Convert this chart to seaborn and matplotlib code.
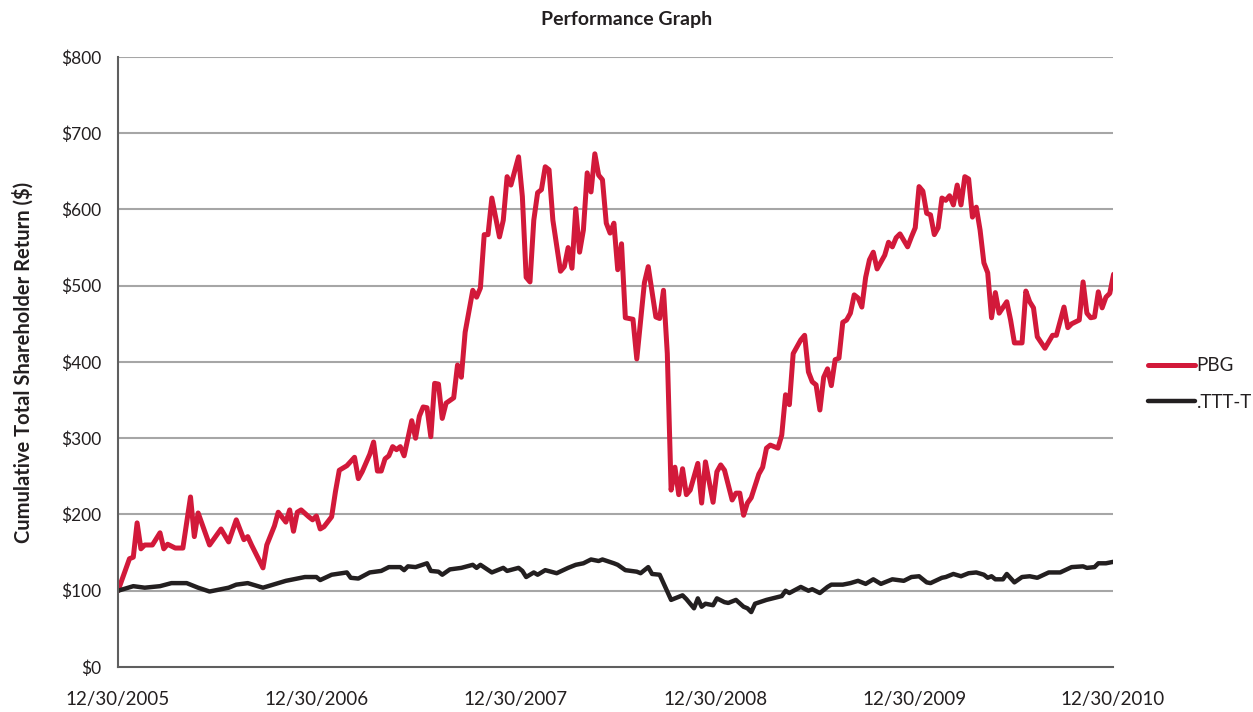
import numpy as np
import pandas as pd
import matplotlib
matplotlib.use("Agg")
import matplotlib.pyplot as plt
import matplotlib.dates as mdates
import seaborn as sns

sns.set_theme(style="white")
plt.rcParams["font.family"] = ["Lato", "DejaVu Sans"]

START = pd.Timestamp("2005-12-30")
YEAR_TICKS = ["2005-12-30", "2006-12-30", "2007-12-30", "2008-12-30", "2009-12-30", "2010-12-30"]
Y_TICKS = [0, 100, 200, 300, 400, 500, 600, 700, 800]

# weeks since 12/30/2005 and cumulative return ($)
pbg_weeks = [0, 3, 4, 5, 6, 7, 9, 11, 12, 13, 15, 17, 19, 20, 21, 24, 27, 29, 31, 33,
             34, 35, 38, 39, 41, 42, 44, 45, 46, 47, 48, 50, 51, 52, 53, 54, 56, 57, 58, 60,
             62, 63, 64, 66, 67, 68, 69, 70, 71, 72, 73, 74, 75, 77, 78, 79, 80, 81, 82, 83,
             84, 85, 86, 88, 89, 90, 91, 93, 94, 95, 96, 97, 98, 100, 101, 102, 103, 105, 106, 107,
             108, 109, 110, 111, 112, 113, 114, 116, 117, 118, 119, 120, 121, 122, 123, 124, 125, 126, 127, 128,
             129, 130, 131, 132, 133, 135, 136, 138, 139, 141, 142, 143, 144, 145, 146, 147, 148, 149, 150, 152,
             153, 154, 156, 157, 158, 159, 161, 162, 163, 164, 165, 166, 168, 169, 170, 171, 173, 174, 175, 176,
             177, 179, 180, 181, 182, 183, 184, 185, 186, 187, 188, 189, 190, 191, 192, 193, 194, 195, 196, 197,
             198, 199, 201, 202, 203, 204, 205, 207, 208, 209, 210, 211, 212, 213, 214, 215, 216, 217, 218, 219,
             220, 221, 222, 223, 224, 225, 226, 227, 228, 229, 230, 231, 233, 234, 235, 237, 238, 239, 240, 241,
             243, 245, 246, 248, 249, 250, 252, 253, 254, 255, 256, 257, 258, 259, 260, 261]
pbg_values = [100, 142, 144, 189, 155, 160, 160, 176, 155, 161, 156, 156, 223, 171, 202, 160, 181, 164, 193, 167,
              171, 160, 130, 160, 185, 203, 190, 206, 178, 203, 206, 197, 193, 198, 181, 184, 197, 230, 258, 264,
              275, 247, 256, 279, 295, 257, 257, 273, 277, 289, 285, 289, 277, 323, 300, 329, 341, 340, 302, 372,
              371, 326, 346, 353, 396, 380, 439, 494, 485, 497, 567, 567, 615, 564, 586, 643, 632, 669, 617, 511,
              505, 586, 622, 626, 656, 652, 586, 519, 525, 550, 523, 601, 544, 573, 648, 623, 673, 645, 639, 582,
              569, 582, 521, 555, 458, 456, 404, 504, 525, 459, 457, 494, 411, 232, 262, 226, 260, 226, 232, 267,
              215, 269, 216, 256, 265, 258, 219, 228, 228, 199, 215, 222, 253, 262, 287, 291, 287, 304, 357, 344,
              411, 429, 435, 387, 374, 370, 337, 380, 391, 369, 403, 405, 452, 455, 464, 488, 484, 472, 511, 534,
              544, 522, 540, 557, 551, 563, 568, 551, 564, 576, 630, 624, 595, 593, 567, 576, 615, 612, 618, 606,
              632, 606, 643, 640, 590, 603, 573, 530, 517, 458, 491, 464, 479, 455, 425, 425, 493, 479, 471, 433,
              418, 435, 435, 472, 445, 450, 455, 505, 464, 458, 459, 492, 471, 485, 490, 515]

ttt_weeks = [0, 4, 7, 11, 14, 18, 21, 24, 29, 31, 34, 38, 42, 44, 49, 52, 53, 56, 60, 61,
             63, 66, 69, 71, 74, 75, 76, 78, 81, 82, 84, 85, 87, 90, 93, 94, 95, 98, 101, 102,
             105, 106, 107, 109, 110, 112, 115, 118, 120, 122, 124, 126, 127, 130, 131, 133, 136, 137, 139, 140,
             142, 143, 145, 146, 148, 149, 151, 152, 153, 154, 156, 157, 159, 160, 162, 164, 165, 166, 167, 170,
             174, 175, 176, 179, 181, 182, 184, 186, 187, 190, 192, 194, 196, 198, 200, 203, 206, 208, 210, 212,
             213, 216, 217, 219, 221, 223, 225, 227, 228, 229, 230, 232, 233, 235, 237, 239, 241, 244, 247, 250,
             253, 254, 256, 257, 259, 261]
ttt_values = [100, 106, 104, 106, 110, 110, 104, 99, 104, 108, 110, 104, 110, 113, 118, 118, 114, 121, 124, 117,
              116, 124, 126, 131, 131, 127, 132, 131, 136, 126, 125, 121, 128, 130, 134, 130, 134, 124, 130, 126,
              130, 126, 118, 124, 121, 127, 123, 130, 134, 136, 141, 139, 141, 136, 134, 127, 125, 123, 131, 122,
              121, 110, 88, 90, 94, 89, 77, 90, 79, 83, 81, 90, 85, 84, 88, 79, 77, 72, 83, 88,
              93, 100, 97, 105, 100, 102, 97, 105, 108, 108, 110, 113, 109, 115, 109, 115, 113, 118, 119, 111,
              110, 117, 118, 122, 119, 123, 124, 121, 117, 119, 115, 115, 122, 111, 118, 119, 117, 124, 124, 131,
              132, 130, 131, 136, 136, 138]


def to_frame(weeks, values):
    return pd.DataFrame({
        "date": START + pd.to_timedelta(np.array(weeks) * 7, unit="D"),
        "value": values,
    })


pbg = to_frame(pbg_weeks, pbg_values)
ttt = to_frame(ttt_weeks, ttt_values)

fig = plt.figure(figsize=(12.53, 7.12), dpi=100)
ax = fig.add_axes([0.0942, 0.0632, 0.7941, 0.8568])

grid_c = "#a6a6a6"
axis_c = "#5f5f5f"
text_c = "#231f20"

for y in Y_TICKS[1:]:
    ax.axhline(y, color=grid_c, linewidth=1.5, zorder=0)

sns.lineplot(data=pbg, x="date", y="value", ax=ax, color="#d2193a", linewidth=3.6, label="PBG")
sns.lineplot(data=ttt, x="date", y="value", ax=ax, color="#231f20", linewidth=3.2, label=".TTT-T")

ax.set_xlim(pd.Timestamp(YEAR_TICKS[0]), pd.Timestamp(YEAR_TICKS[-1]))
ax.set_ylim(0, 800)
ax.set_yticks(Y_TICKS)
ax.set_yticklabels([f"${v}" for v in Y_TICKS])
ax.set_xticks([pd.Timestamp(d) for d in YEAR_TICKS])
ax.xaxis.set_major_formatter(mdates.DateFormatter("%m/%d/%Y"))
ax.tick_params(axis="both", length=0, colors=text_c)
ax.tick_params(axis="y", pad=12, labelsize=12.5)
ax.tick_params(axis="x", pad=17, labelsize=13.5)

for side in ["top", "right"]:
    ax.spines[side].set_visible(False)
for side in ["left", "bottom"]:
    ax.spines[side].set_color(axis_c)
    ax.spines[side].set_linewidth(1.5)

ax.set_xlabel("")
ax.set_ylabel("Cumulative Total Shareholder Return ($)", fontsize=14.5, fontweight="bold",
              color=text_c, labelpad=20)
fig.text(0.5, 0.972, "Performance Graph", ha="center", va="center", fontsize=14,
         fontweight="bold", color=text_c)

ax.legend(loc="center left", bbox_to_anchor=(1.018, 0.464), frameon=False, fontsize=13.5,
          handlelength=2.5, handletextpad=0.1, labelspacing=1.05, labelcolor=text_c)

fig.savefig("out.png", dpi=100)
